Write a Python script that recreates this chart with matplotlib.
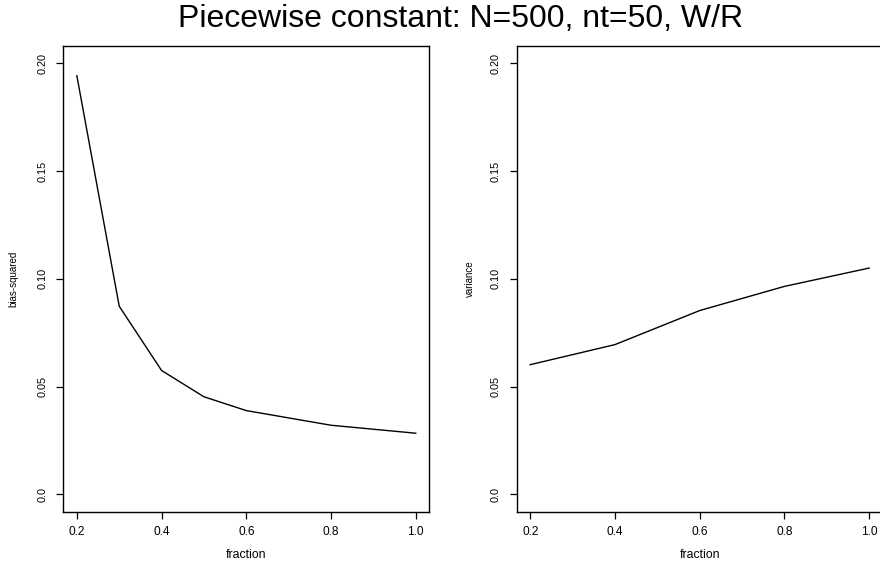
import matplotlib
matplotlib.use('Agg')
import matplotlib.pyplot as plt

plt.rcParams['font.family'] = ['Liberation Sans', 'DejaVu Sans']

# bias-squared and variance against the fraction of data used
frac_bias = [0.2, 0.3, 0.4, 0.5, 0.6, 0.8, 1.0]
bias_sq = [0.1942, 0.0873, 0.0575, 0.0453, 0.0389, 0.0321, 0.0284]

frac_var = [0.2, 0.4, 0.6, 0.8, 1.0]
variance = [0.0602, 0.0695, 0.0853, 0.0965, 0.1050]

x_ticks = [0.2, 0.4, 0.6, 0.8, 1.0]
x_labels = ['0.2', '0.4', '0.6', '0.8', '1.0']
y_ticks = [0.0, 0.05, 0.10, 0.15, 0.20]
y_labels = ['0.0', '0.05', '0.10', '0.15', '0.20']

W, H = 880, 561
BOT, TOP, PW = 511.7, 46.0, 366.0
fig = plt.figure(figsize=(W / 100, H / 100), dpi=100)


def panel(left_px, x, y, ylabel, ylab_x):
    ax = fig.add_axes([left_px / W, (H - BOT) / H, PW / W, (BOT - TOP) / H])
    ax.plot(x, y, color='black', lw=1.0)
    ax.set_xlim(0.168, 1.032)
    ax.set_ylim(-0.008, 0.208)
    ax.set_xticks(x_ticks)
    ax.set_xticklabels(x_labels)
    ax.set_yticks(y_ticks)
    ax.set_yticklabels(y_labels, rotation=90, va='center')
    ax.tick_params(direction='out', length=5, width=0.9)
    ax.tick_params(axis='x', labelsize=8.6, pad=5.5)
    ax.tick_params(axis='y', labelsize=7.8, pad=6.5)
    for s in ax.spines.values():
        s.set_linewidth(1.0)
    ax.set_xlabel('fraction', fontsize=8.8)
    ax.xaxis.set_label_coords(0.5, -0.081)
    ax.set_ylabel(ylabel, fontsize=7.0)
    ax.yaxis.set_label_coords((ylab_x - left_px) / PW, 0.5)
    return ax


panel(63.3, frac_bias, bias_sq, 'bias-squared', 18.0)
panel(516.7, frac_var, variance, 'variance', 475.0)

fig.text(461 / W, 1 - 27.3 / H, 'Piecewise constant: N=500, nt=50, W/R',
         ha='center', va='baseline', fontsize=23)

fig.savefig('out.png', dpi=100)
